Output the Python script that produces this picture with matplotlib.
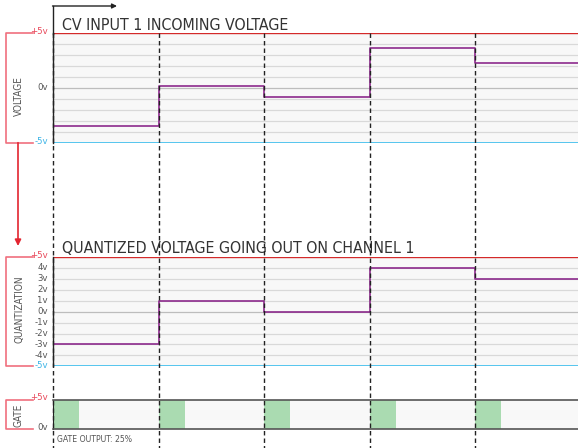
import numpy as np
import matplotlib
matplotlib.use("Agg")
import matplotlib.pyplot as plt
from matplotlib.transforms import blended_transform_factory

plt.rcParams['font.family'] = 'DejaVu Sans'
plt.rcParams['font.stretch'] = 'condensed'

# one step per incoming CV sample
steps = [0, 1, 2, 3, 4]
cv_in = [-3.5, 0.15, -0.85, 3.65, 2.3]
quantized = [-3, 1, 0, 4, 3]
gate_duty = 0.25
quant_ticks = [4, 3, 2, 1, 0, -1, -2, -3, -4]

W, H = 578, 448
X0, STEP_PX = 53, 105.5
fig = plt.figure(figsize=(W / 100, H / 100), dpi=100)

BG = '#f8f8f8'
GRID = '#d9d9d9'
PURPLE = '#8c2a8c'
RED_LINE = '#d42a2a'
CYAN_LINE = '#55c5ee'
BRACKET = '#f0707e'
TXT = '#555555'


def px_axes(top, bottom):
    width = STEP_PX * len(steps)
    return fig.add_axes([X0 / W, 1 - bottom / H, width / W, (bottom - top) / H])


def voltage_panel(ax, values):
    t = np.append(steps, len(steps))
    ax.set_xlim(0, len(steps))
    ax.set_ylim(-5, 5)
    ax.set_facecolor(BG)
    for v in range(-4, 5):
        ax.axhline(v, color='#bdbdbd' if v == 0 else GRID, lw=0.9, zorder=1)
    ax.axhline(5, color=RED_LINE, lw=1.0, zorder=2)
    ax.axhline(-5, color=CYAN_LINE, lw=1.4, zorder=2)
    ax.step(t, np.append(values, values[-1]), where='post', color=PURPLE, lw=1.2, zorder=3)
    for s in ax.spines.values():
        s.set_visible(False)
    ax.spines['left'].set_visible(True)
    ax.spines['left'].set_color('#222222')
    ax.spines['left'].set_linewidth(1.0)
    ax.set_xticks([])
    ax.set_yticks([])


ax_cv = px_axes(33, 142.7)
voltage_panel(ax_cv, cv_in)

ax_q = px_axes(257, 366.3)
voltage_panel(ax_q, quantized)

ax_g = px_axes(400, 428.7)
ax_g.set_xlim(0, len(steps))
ax_g.set_ylim(0, 5)
ax_g.set_facecolor(BG)
ax_g.bar(steps, 5, width=gate_duty, align='edge', color='#aadbb1', zorder=2)
for s in ax_g.spines.values():
    s.set_visible(False)
for side in ('top', 'bottom'):
    ax_g.spines[side].set_visible(True)
    ax_g.spines[side].set_color('#555555')
    ax_g.spines[side].set_linewidth(1.2)
ax_g.spines['left'].set_visible(True)
ax_g.spines['left'].set_color('#222222')
ax_g.set_xticks([])
ax_g.set_yticks([])

# overlay in pixel coordinates for the labels, brackets and arrows
ov = fig.add_axes([0, 0, 1, 1])
ov.set_xlim(0, W)
ov.set_ylim(H, 0)
ov.axis('off')

# step boundaries run through all three panels
tr = blended_transform_factory(ax_cv.transData, ov.transData)
for s in steps:
    ov.plot([s, s], [33, H], transform=tr, color='#222222', lw=1.0,
            dashes=(3.2, 2.2), zorder=5)

# time axis arrow
ov.plot([53, 53], [6, 34], color='#222222', lw=1.0)
ov.annotate('', xy=(117, 6), xytext=(52.5, 6),
            arrowprops=dict(arrowstyle='-|>', color='#222222', lw=1.0,
                            mutation_scale=7, shrinkA=0, shrinkB=0))

title_kw = dict(fontsize=11.4, color='#333333', ha='left', va='baseline')
ov.text(62, 30, 'CV INPUT 1 INCOMING VOLTAGE', **title_kw)
ov.text(62, 253, 'QUANTIZED VOLTAGE GOING OUT ON CHANNEL 1', **title_kw)


def bracket(top, bottom, label, cy):
    ov.plot([33, 6, 6, 33], [top, top, bottom, bottom], color=BRACKET, lw=1.2)
    ov.text(19, cy, label, rotation=90, ha='center', va='center',
            fontsize=7.2, color=TXT)


lab_kw = dict(fontsize=6.8, ha='right', va='center')
bracket(33, 142.7, 'VOLTAGE', 96)
ov.text(48, 31, '+5v', color='#e8485a', **lab_kw)
ov.text(48, 87, '0v', color=TXT, **lab_kw)
ov.text(48, 141, '-5v', color='#3cb4e6', **lab_kw)

bracket(257, 366.3, 'QUANTIZATION', 309)
ov.text(48, 256, '+5v', color='#e8485a', **lab_kw)
ov.text(48, 365, '-5v', color='#3cb4e6', **lab_kw)
qtr = blended_transform_factory(ov.transData, ax_q.transData)
for v in quant_ticks:
    ov.text(48, v, f'{v}v', transform=qtr, color=TXT, **lab_kw)

bracket(400, 428.7, 'GATE', 415)
ov.text(48, 398, '+5v', color='#e8485a', **lab_kw)
ov.text(48, 427, '0v', color=TXT, **lab_kw)
ov.text(57, 440, f'GATE OUTPUT: {gate_duty:.0%}', fontsize=6.2, color=TXT,
        ha='left', va='center')

# red arrow linking the input bracket to the quantized panel
ov.annotate('', xy=(18, 246), xytext=(18, 142.7),
            arrowprops=dict(arrowstyle='-|>', color='#e32530', lw=1.2,
                            mutation_scale=9, shrinkA=0, shrinkB=0))

fig.savefig('out.png', dpi=100)
